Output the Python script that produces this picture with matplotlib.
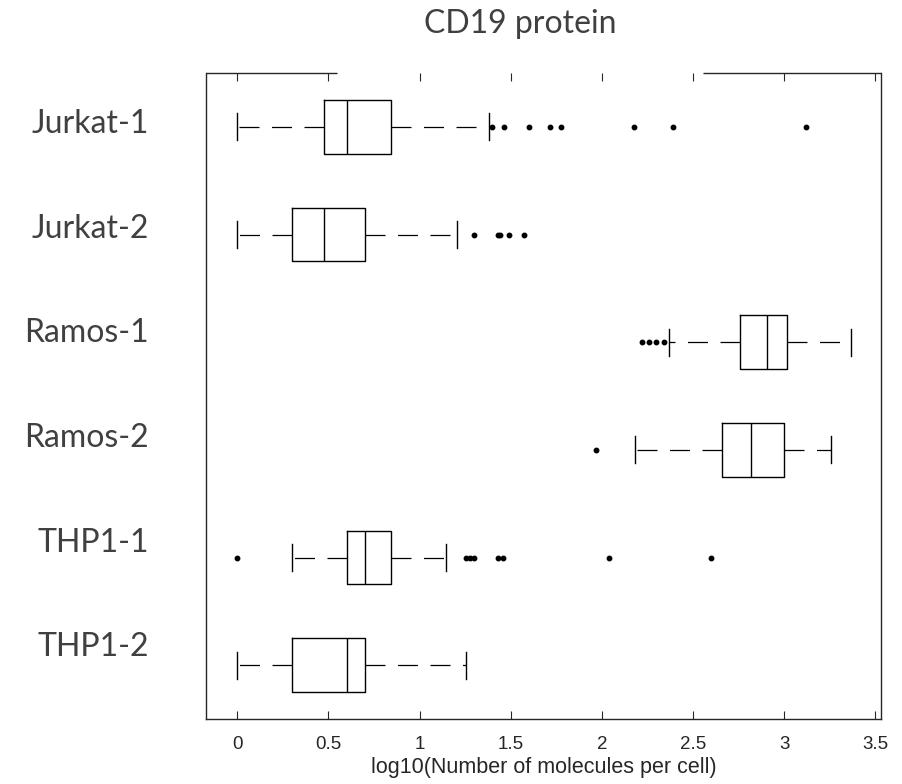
import matplotlib
matplotlib.use('Agg')
import matplotlib.pyplot as plt
import matplotlib.transforms as mtrans

# box statistics, log10(molecules per cell)
labels = ['Jurkat-1', 'Jurkat-2', 'Ramos-1', 'Ramos-2', 'THP1-1', 'THP1-2']
q1 = [0.477, 0.301, 2.760, 2.660, 0.602, 0.301]
med = [0.602, 0.477, 2.904, 2.820, 0.699, 0.602]
q3 = [0.845, 0.699, 3.018, 3.000, 0.845, 0.699]
whislo = [0.000, 0.000, 2.370, 2.180, 0.301, 0.000]
whishi = [1.380, 1.204, 3.368, 3.260, 1.146, 1.255]
fliers = [
    [1.398, 1.462, 1.602, 1.716, 1.778, 2.176, 2.389, 3.120],
    [1.300, 1.430, 1.440, 1.490, 1.575],
    [2.220, 2.260, 2.300, 2.340],
    [1.966],
    [0.000, 1.257, 1.277, 1.296, 1.430, 1.460, 2.040, 2.600],
    [],
]
xticks = [0, 0.5, 1, 1.5, 2, 2.5, 3, 3.5]
xtick_labels = ['0', '0.5', '1', '1.5', '2', '2.5', '3', '3.5']

AXC = '#262626'
TXT = '#404040'

fig = plt.figure(figsize=(9.02, 7.84), dpi=100)
ax = fig.add_axes([206 / 902, 1 - 719 / 784, 675 / 902, 646 / 784])

stats = []
for i in range(len(labels)):
    stats.append(dict(med=med[i], q1=q1[i], q3=q3[i],
                      whislo=whislo[i], whishi=whishi[i], fliers=fliers[i]))

pos = list(range(1, len(labels) + 1))
ax.bxp(stats, positions=pos, orientation='horizontal', widths=0.5,
       capwidths=0.25, showfliers=True,
       boxprops=dict(color='black', linewidth=1.0),
       medianprops=dict(color='black', linewidth=1.0),
       whiskerprops=dict(color='black', linewidth=0.9, linestyle=(0, (16, 10))),
       capprops=dict(color='black', linewidth=1.0),
       flierprops=dict(marker='o', markersize=3.2, markerfacecolor='black',
                       markeredgecolor='black', linestyle='none'))

ax.set_xlim(-0.172, 3.532)
ax.set_ylim(6.5, 0.5)

ax.set_xticks(xticks, xtick_labels)
ax.tick_params(axis='x', direction='in', length=6, width=0.8, top=True,
               colors=AXC, labelsize=13.5, pad=12)
for t in ax.get_xticklabels():
    t.set_fontfamily('Liberation Sans')

ax.set_yticks(pos, labels)
ax.tick_params(axis='y', length=0, pad=41, labelsize=23, labelcolor=TXT)
for i, t in enumerate(ax.get_yticklabels()):
    t.set_fontfamily('Lato')
    # labels sit a little above their boxes, more so lower down
    off = mtrans.ScaledTranslation(0, (6 + 3 * i) / 100, fig.dpi_scale_trans)
    t.set_transform(t.get_transform() + off)

for s in ['left', 'right', 'bottom']:
    ax.spines[s].set_color(AXC)
    ax.spines[s].set_linewidth(1.0)
# top border is broken in the reference
ax.spines['top'].set_visible(False)
ax.plot([0, 0.194], [1, 1], transform=ax.transAxes, clip_on=False,
        color=AXC, lw=1.0, solid_capstyle='butt')
ax.plot([0.736, 1], [1, 1], transform=ax.transAxes, clip_on=False,
        color=AXC, lw=1.0, solid_capstyle='butt')

ax.set_xlabel('log10(Number of molecules per cell)', fontsize=15.5,
              family='Liberation Sans', color=AXC, labelpad=3)
ax.set_title('CD19 protein', fontsize=23, family='Lato', color=TXT,
             pad=29, x=0.465)

fig.savefig('out.png', dpi=100)
